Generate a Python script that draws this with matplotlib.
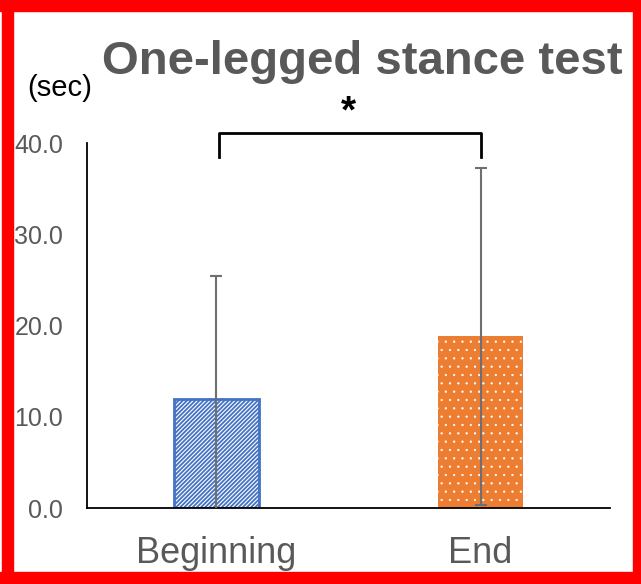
import matplotlib
matplotlib.use("Agg")
import matplotlib.pyplot as plt
from matplotlib.patches import Rectangle

plt.rcParams['font.family'] = ['Liberation Sans', 'DejaVu Sans']

groups = ["Beginning", "End"]
means = [11.9, 18.8]
sds = [13.5, 18.5]
yticks = [0, 10, 20, 30, 40]
ytick_labels = ["0.0", "10.0", "20.0", "30.0", "40.0"]

fig = plt.figure(figsize=(6.41, 5.84), dpi=100)
ax = fig.add_axes([0.1357, 0.1301, 0.8159, 0.6250])

x = list(range(len(groups)))

# blue diagonal stripes; the hatch takes the edge colour
plt.rcParams['hatch.linewidth'] = 1.3
b1 = ax.bar(x[0], means[0], width=0.32, color='white', edgecolor='#4472C4',
            linewidth=2, hatch='////////', zorder=2)
# orange with small white dots: white edge so the dots come out white
plt.rcParams['hatch.linewidth'] = 0.4
b2 = ax.bar(x[1], means[1], width=0.32, color='#ED7D31', edgecolor='white',
            linewidth=0, hatch='..', zorder=2)
for p in b1:
    if hasattr(p, 'set_hatch_linewidth'):
        p.set_hatch_linewidth(1.3)
for p in b2:
    if hasattr(p, 'set_hatch_linewidth'):
        p.set_hatch_linewidth(0.4)

ax.errorbar(x, means, yerr=sds, fmt='none', ecolor='#6f6f6f', elinewidth=1.5,
            capsize=4.5, capthick=1.5, zorder=3)

ax.set_xlim(-0.49, 1.49)
ax.set_ylim(0, 40)
ax.set_yticks(yticks)
ax.set_yticklabels(ytick_labels, fontsize=18, color='#595959')
ax.set_xticks(x)
ax.set_xticklabels(groups, fontsize=26, color='#595959')
ax.tick_params(axis='y', length=0, pad=17)
ax.tick_params(axis='x', length=0, pad=20)
for side in ['top', 'right']:
    ax.spines[side].set_visible(False)
for side in ['left', 'bottom']:
    ax.spines[side].set_color('black')
    ax.spines[side].set_linewidth(1.3)

# significance bracket between the two groups
ax.plot([x[0] + 0.01, x[0] + 0.01, x[1], x[1]], [38.5, 41.1, 41.1, 38.5],
        color='black', lw=2, clip_on=False, solid_joinstyle='round')
ax.text((x[0] + x[1]) / 2, 43.4, "*", ha='center', va='center',
        fontsize=28, fontweight='bold', color='black', clip_on=False)

fig.text(0.565, 0.893, "One-legged stance test", ha='center', va='center',
         fontsize=34, fontweight='bold', color='#595959')
fig.text(0.043, 0.849, "(sec)", ha='left', va='center', fontsize=21, color='black')

# red frame around the figure
W, H = 641, 584
red = '#FF0000'
fig.patches.append(Rectangle((2 / W, 0), 11 / W, 1, transform=fig.transFigure, color=red, zorder=10))
fig.patches.append(Rectangle((0, 1 - 11 / H), 1, 11 / H, transform=fig.transFigure, color=red, zorder=10))
fig.patches.append(Rectangle((633 / W, 0), 8 / W, 1, transform=fig.transFigure, color=red, zorder=10))
fig.patches.append(Rectangle((0, 0), 1, 12 / H, transform=fig.transFigure, color=red, zorder=10))

fig.savefig("out.png", dpi=100)
